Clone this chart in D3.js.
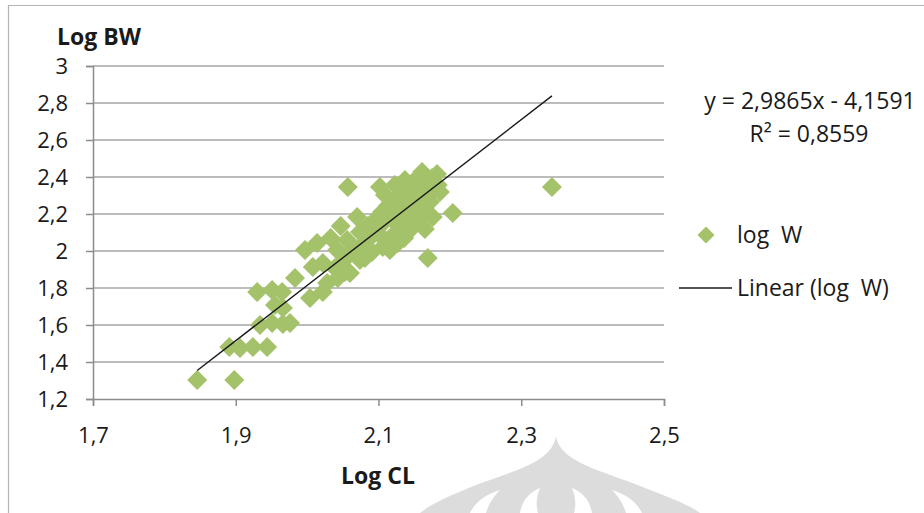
<!DOCTYPE html>
<html>
<head>
<meta charset="utf-8">
<script src="https://cdn.jsdelivr.net/npm/d3@7"></script>
<style>
  body { margin: 0; background: #fff; }
  svg text { font-family: "Open Sans", "Noto Sans", sans-serif; fill: #1a1a1a; }
</style>
</head>
<body>
<div id="chart"></div>
<script>
// values (log CL, log W)
var logCL = [1.846, 1.898, 1.891, 1.906, 1.924, 1.944, 1.934, 1.951, 1.966, 1.976,
  1.930, 1.951, 1.965, 1.955, 1.966, 1.983, 1.997, 2.014, 2.004, 2.022,
  2.028, 2.008, 2.022, 2.042, 2.056, 2.057, 2.070, 2.102, 2.060, 2.074,
  2.106, 2.130, 2.169, 2.204, 2.176, 2.165, 2.161, 2.182, 2.343,
  2.039, 2.049, 2.057, 2.067, 2.077, 2.085, 2.091, 2.099, 2.108, 2.116,
  2.125, 2.133, 2.141, 2.150, 2.158, 2.167, 2.175, 2.043, 2.053, 2.081,
  2.091, 2.109, 2.119, 2.127, 2.137, 2.144, 2.153, 2.161, 2.169, 2.178,
  2.074, 2.085, 2.095, 2.105, 2.113, 2.122, 2.130, 2.139, 2.147, 2.155,
  2.116, 2.127, 2.136, 2.147, 2.155, 2.164, 2.172, 2.123, 2.137, 2.109,
  2.083, 2.186, 2.183, 2.033, 2.047];
var logW = [1.303, 1.303, 1.481, 1.476, 1.481, 1.481, 1.600, 1.611, 1.605, 1.611,
  1.778, 1.789, 1.778, 1.708, 1.692, 1.854, 2.005, 2.043, 1.746, 1.778,
  1.827, 1.914, 1.935, 2.005, 2.059, 2.346, 2.184, 2.346, 1.881, 1.951,
  2.022, 2.097, 1.962, 2.205, 2.184, 2.119, 2.427, 2.416, 2.346,
  1.908, 1.941, 1.978, 2.005, 2.032, 2.059, 2.097, 2.124, 2.157, 2.189,
  2.222, 2.249, 2.286, 2.319, 2.351, 2.373, 2.395, 1.854, 1.886, 1.962,
  1.995, 2.059, 2.081, 2.141, 2.168, 2.211, 2.249, 2.276, 2.303, 2.330,
  2.103, 2.135, 2.168, 2.211, 2.243, 2.276, 2.308, 2.341, 2.368, 2.395,
  2.005, 2.043, 2.070, 2.124, 2.168, 2.222, 2.265, 2.357, 2.384, 2.303,
  2.103, 2.319, 2.357, 2.070, 2.135];

var xTicks = [1.7, 1.9, 2.1, 2.3, 2.5];
var yTicks = [1.2, 1.4, 1.6, 1.8, 2.0, 2.2, 2.4, 2.6, 2.8, 3.0];

var trendSlope = 2.9865;
var trendIntercept = -4.1591;
var eqText = "y = 2,9865x - 4,1591";
var r2Text = "R² = 0,8559";
var seriesName = "log  W";
var trendName = "Linear (log  W)";

var width = 924, height = 513;
var green = "#a3c26a";
var gridCol = "#a6a6a6";
var fs = 23;

var svg = d3.select("#chart").append("svg")
    .attr("width", width)
    .attr("height", height);

// faint watermark behind everything
var wm = svg.append("g").attr("fill", "#dcdcdc");
wm.append("path")
    .attr("d", "M556,436 C560,462 600,470 640,486 C668,497 690,505 700,513 L420,513 C432,503 452,495 476,485 C516,470 552,462 556,436 Z");
wm.append("path")
    .attr("fill", "#fff")
    .attr("d", "M470,513 C476,500 490,493 500,490 C492,498 488,506 486,513 Z M520,513 C522,500 530,492 540,488 C536,498 536,506 538,513 Z M574,513 C576,506 576,498 572,488 C582,492 590,500 592,513 Z M626,513 C624,506 620,498 612,490 C622,493 636,500 642,513 Z");

// outer chart border
svg.append("path")
    .attr("d", "M8.5,520 L8.5,5.5 L930,5.5")
    .attr("fill", "none")
    .attr("stroke", "#b4b4b4")
    .attr("stroke-width", 1.2);

var x = d3.scaleLinear().domain([1.7, 2.5]).range([93, 664]);
var y = d3.scaleLinear().domain([1.2, 3.0]).range([399, 66]);

function comma(v) { return d3.format(".1~f")(v).replace(".", ","); }

// horizontal gridlines
svg.append("g")
    .attr("class", "grid")
    .selectAll("line")
    .data(yTicks.slice(1))
    .enter().append("line")
    .attr("x1", x(1.7)).attr("x2", x(2.5))
    .attr("y1", function(d) { return y(d); })
    .attr("y2", function(d) { return y(d); })
    .attr("stroke", gridCol)
    .attr("stroke-width", 1.5);

// axes
var yAxis = d3.axisLeft(y).tickValues(yTicks).tickSize(7).tickPadding(18)
    .tickFormat(function(d) { return d === 3 ? "3" : (d === 2 ? "2" : comma(d)); });
var xAxis = d3.axisBottom(x).tickValues(xTicks).tickSize(7).tickPadding(21)
    .tickFormat(comma);

var gy = svg.append("g").attr("transform", "translate(" + x(1.7) + ",0)").call(yAxis);
var gx = svg.append("g").attr("transform", "translate(0," + y(1.2) + ")").call(xAxis);

[gx, gy].forEach(function(g) {
  g.select(".domain").attr("stroke", "#8c8c8c").attr("stroke-width", 1.5);
  g.selectAll(".tick line").attr("stroke", "#8c8c8c").attr("stroke-width", 1.5);
  g.selectAll(".tick text")
      .attr("font-family", "'Open Sans', sans-serif")
      .attr("font-size", 22)
      .attr("fill", "#1a1a1a");
});
gy.selectAll(".tick text").attr("dy", "0.36em");

// scatter points
var pts = logCL.map(function(v, i) { return { cl: v, w: logW[i] }; });
var diamond = d3.symbol().type(d3.symbolSquare).size(200);

svg.append("g")
    .selectAll("path")
    .data(pts)
    .enter().append("path")
    .attr("d", diamond)
    .attr("transform", function(d) {
      return "translate(" + x(d.cl) + "," + y(d.w) + ") rotate(45)";
    })
    .attr("fill", green);

// trendline over the data range
var ext = d3.extent(logCL);
var line = d3.line()
    .x(function(d) { return x(d); })
    .y(function(d) { return y(trendSlope * d + trendIntercept); });

svg.append("path")
    .datum(ext)
    .attr("d", line)
    .attr("fill", "none")
    .attr("stroke", "#1a1a1a")
    .attr("stroke-width", 1.4);

// axis titles
svg.append("text")
    .attr("x", 57).attr("y", 45)
    .attr("font-size", fs).attr("font-weight", "bold")
    .text("Log BW");

svg.append("text")
    .attr("x", 378).attr("y", 484)
    .attr("text-anchor", "middle")
    .attr("font-size", fs).attr("font-weight", "bold")
    .text("Log CL");

// trendline equation
svg.append("text")
    .attr("x", 810).attr("y", 109)
    .attr("text-anchor", "middle")
    .attr("font-size", fs)
    .text(eqText);
svg.append("text")
    .attr("x", 809).attr("y", 142)
    .attr("text-anchor", "middle")
    .attr("font-size", fs)
    .text(r2Text);

// legend
var leg = svg.append("g");
leg.append("path")
    .attr("d", d3.symbol().type(d3.symbolSquare).size(144))
    .attr("transform", "translate(706,235) rotate(45)")
    .attr("fill", green);
leg.append("text")
    .attr("x", 737).attr("y", 243)
    .attr("font-size", fs)
    .style("white-space", "pre")
    .text(seriesName);
leg.append("line")
    .attr("x1", 679).attr("x2", 732)
    .attr("y1", 288).attr("y2", 288)
    .attr("stroke", "#1a1a1a")
    .attr("stroke-width", 1.4);
leg.append("text")
    .attr("x", 737).attr("y", 296)
    .attr("font-size", fs)
    .style("white-space", "pre")
    .text(trendName);
</script>
</body>
</html>
